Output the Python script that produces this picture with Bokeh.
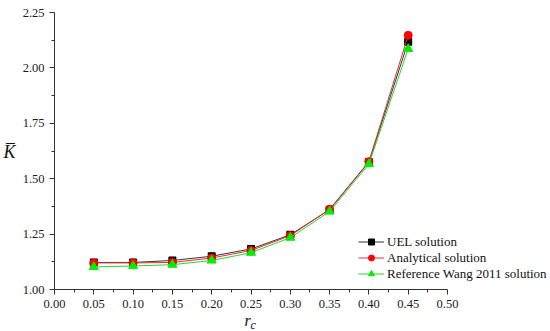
from bokeh.plotting import figure
from bokeh.models import FixedTicker, NumeralTickFormatter, Legend, LegendItem, Label, Range1d
from bokeh.embed import file_html
from bokeh.resources import INLINE

rc = [0.05, 0.10, 0.15, 0.20, 0.25, 0.30, 0.35, 0.40, 0.45]
uel = [1.122, 1.122, 1.131, 1.150, 1.183, 1.247, 1.360, 1.575, 2.118]
analytical = [1.120, 1.120, 1.122, 1.142, 1.176, 1.243, 1.362, 1.577, 2.147]
wang = [1.102, 1.106, 1.112, 1.131, 1.166, 1.234, 1.352, 1.566, 2.086]
x_ticks = [0.00, 0.05, 0.10, 0.15, 0.20, 0.25, 0.30, 0.35, 0.40, 0.45, 0.50]
y_ticks = [1.00, 1.25, 1.50, 1.75, 2.00, 2.25]

FONT = "Liberation Serif"
W, H = 550, 331
# pixel positions of the axis corners in the canvas
X0PX, X1PX, Y0PX, Y1PX = 54, 447, 289, 12
xs = (X1PX - X0PX) / 0.5
ys = (Y0PX - Y1PX) / 1.25

p = figure(width=W, height=H, output_backend="svg", toolbar_location=None,
           x_range=Range1d(0.0 - X0PX / xs, 0.5 + (W - X1PX) / xs),
           y_range=Range1d(1.0 - (H - Y0PX) / ys, 2.25 + Y1PX / ys),
           min_border=0, min_border_left=0, min_border_right=0,
           min_border_top=0, min_border_bottom=0)
p.outline_line_color = None
p.grid.visible = False
p.background_fill_color = "white"
p.xaxis.bounds = (0.0, 0.5)
p.yaxis.bounds = (1.0, 2.25)
p.xaxis.fixed_location = 1.0
p.yaxis.fixed_location = 0.0

for ax, ticks in ((p.xaxis[0], x_ticks), (p.yaxis[0], y_ticks)):
    ax.ticker = FixedTicker(ticks=ticks,
                            minor_ticks=[(a + b) / 2 for a, b in zip(ticks[:-1], ticks[1:])])
    ax.formatter = NumeralTickFormatter(format="0.00")
    ax.major_label_text_font = FONT
    ax.major_label_text_font_size = "12.5px"
    ax.major_label_text_color = "#1a1a1a"
    ax.axis_line_color = "#333333"
    ax.major_tick_line_color = "#333333"
    ax.minor_tick_line_color = "#333333"
    ax.major_tick_out = 5
    ax.major_tick_in = 0
    ax.minor_tick_out = 3
    ax.minor_tick_in = 0
p.xaxis.major_label_standoff = 5
p.yaxis.major_label_standoff = 5

l1 = p.line(rc, uel, line_color="#333333", line_width=1)
m1 = p.scatter(rc, uel, marker="square", size=7, color="black")
l2 = p.line(rc, analytical, line_color="#e03030", line_width=1)
m2 = p.scatter(rc, analytical, marker="circle", size=8, color="red")
l3 = p.line(rc, wang, line_color="#30d030", line_width=1)
m3 = p.scatter(rc, wang, marker="triangle", size=9, color="#00ee00")

legend = Legend(items=[
    LegendItem(label="UEL solution", renderers=[l1, m1]),
    LegendItem(label="Analytical solution", renderers=[l2, m2]),
    LegendItem(label="Reference Wang 2011 solution", renderers=[l3, m3]),
], location=(358, H - 281.5))
legend.border_line_color = None
legend.background_fill_alpha = 0
legend.padding = 0
legend.margin = 0
legend.spacing = 0
legend.label_height = 15
legend.glyph_height = 15
legend.glyph_width = 26
legend.label_standoff = 3
legend.label_text_font = FONT
legend.label_text_font_size = "13px"
legend.label_text_color = "#111111"
p.add_layout(legend, "center")

# axis titles (screen units from the frame's bottom-left corner = canvas corner)
p.add_layout(Label(x=3, y=H - 151, x_units="screen", y_units="screen", text="K\u0305",
                   text_font=FONT, text_font_style="italic", text_font_size="18px",
                   text_align="left", text_baseline="middle", text_color="#111111"))
p.add_layout(Label(x=244, y=H - 320, x_units="screen", y_units="screen", text="r",
                   text_font=FONT, text_font_style="italic", text_font_size="16px",
                   text_align="left", text_baseline="alphabetic", text_color="#111111"))
p.add_layout(Label(x=250, y=H - 324, x_units="screen", y_units="screen", text="c",
                   text_font=FONT, text_font_style="italic", text_font_size="12px",
                   text_align="left", text_baseline="alphabetic", text_color="#111111"))

open("out.html", "w").write(file_html(p, INLINE))
